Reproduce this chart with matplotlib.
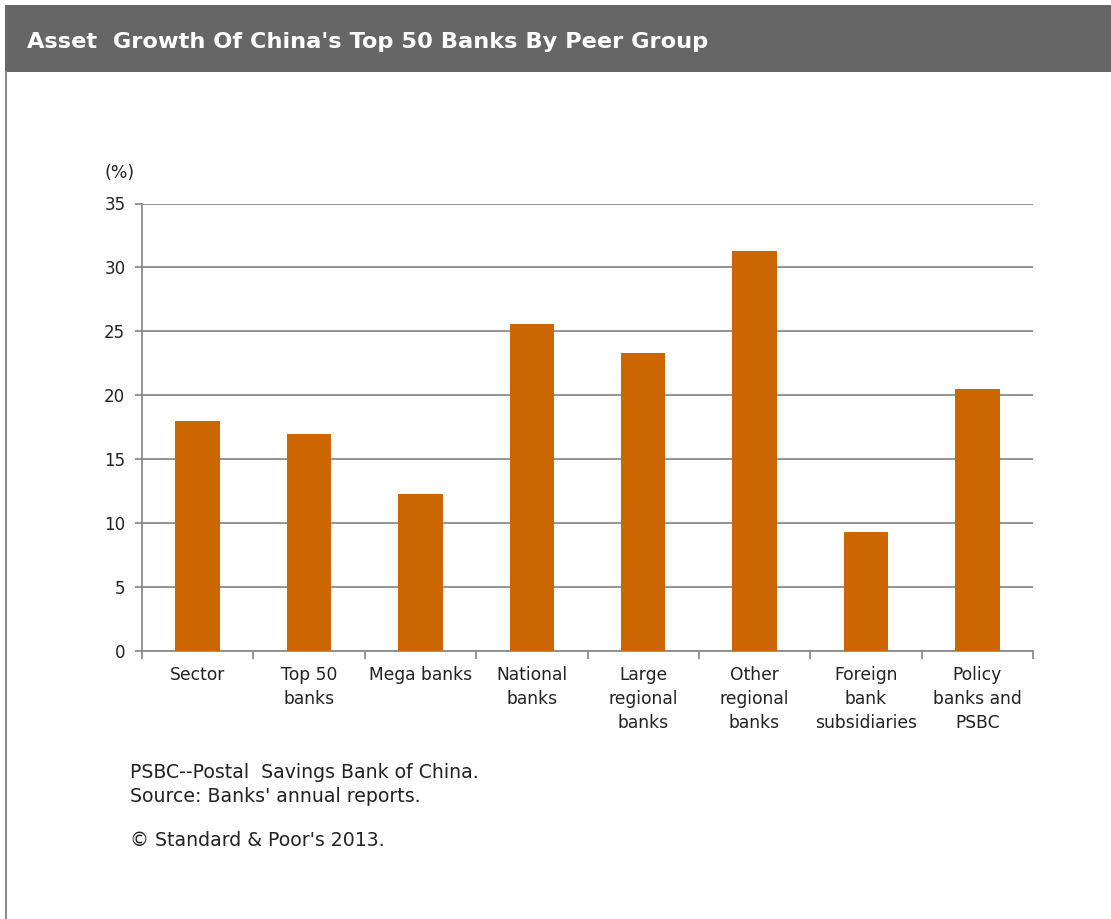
import matplotlib.pyplot as plt
from matplotlib.patches import Rectangle
from matplotlib.lines import Line2D

plt.rcParams['font.family'] = ['DejaVu Sans']

categories = ["Sector", "Top 50\nbanks", "Mega banks", "National\nbanks",
              "Large\nregional\nbanks", "Other\nregional\nbanks",
              "Foreign\nbank\nsubsidiaries", "Policy\nbanks and\nPSBC"]
growth = [18.0, 17.0, 12.3, 25.6, 23.3, 31.3, 9.3, 20.5]
yticks = [0, 5, 10, 15, 20, 25, 30, 35]

title = "Asset  Growth Of China's Top 50 Banks By Peer Group"
notes = ["PSBC--Postal  Savings Bank of China.", "Source: Banks' annual reports."]
copyright_line = "\u00a9 Standard & Poor's 2013."

W, H = 1111, 919
fig = plt.figure(figsize=(W / 100, H / 100), dpi=100)
fig.patch.set_facecolor("white")

# header bar and left frame line
fig.patches.append(Rectangle((5 / W, 1 - 72 / H), 1 - 5 / W, 67 / H,
                             transform=fig.transFigure, facecolor="#666666",
                             edgecolor="none", zorder=0))
fig.lines.append(Line2D([5.5 / W, 5.5 / W], [0, 1 - 72 / H], transform=fig.transFigure,
                        color="#8c8c8c", lw=1.5))
fig.text(27 / W, 1 - 42 / H, title, color="white", fontsize=16.2, fontweight="bold",
         va="center", ha="left")

ax = fig.add_axes([142 / W, (H - 651) / H, (1033 - 142) / W, (651 - 203.5) / H])
x = list(range(len(categories)))
ax.bar(x, growth, width=0.4, color="#cc6600", zorder=3)

ax.set_xlim(-0.5, len(categories) - 0.5)
ax.set_ylim(0, 35)
ax.set_yticks(yticks)
ax.set_yticklabels([str(v) for v in yticks], fontsize=12, color="#222222")
ax.yaxis.grid(True, color="#8c8c8c", lw=1.3, zorder=1)
ax.tick_params(axis="y", length=5, width=1.3, color="#8c8c8c", pad=7)

ax.set_xticks(x)
ax.set_xticklabels(categories, fontsize=12.3, color="#222222", linespacing=1.42)
ax.set_xticks([i - 0.5 for i in range(len(categories) + 1)], minor=True)
ax.tick_params(axis="x", which="major", length=0, pad=11)
ax.tick_params(axis="x", which="minor", length=6, width=1.3, color="#8c8c8c")

for s in ["top", "right"]:
    ax.spines[s].set_visible(False)
for s in ["left", "bottom"]:
    ax.spines[s].set_color("#8c8c8c")
    ax.spines[s].set_linewidth(1.3)

fig.text(105 / W, 1 - 173 / H, "(%)", fontsize=12.5, color="#222222", va="center", ha="left")

fig.text(130 / W, 1 - 773 / H, notes[0], fontsize=13.6, color="#222222", va="center")
fig.text(130 / W, 1 - 796 / H, notes[1], fontsize=13.6, color="#222222", va="center")
fig.text(130 / W, 1 - 840 / H, copyright_line, fontsize=13.6, color="#222222", va="center")

fig.savefig("out.png", dpi=100)
